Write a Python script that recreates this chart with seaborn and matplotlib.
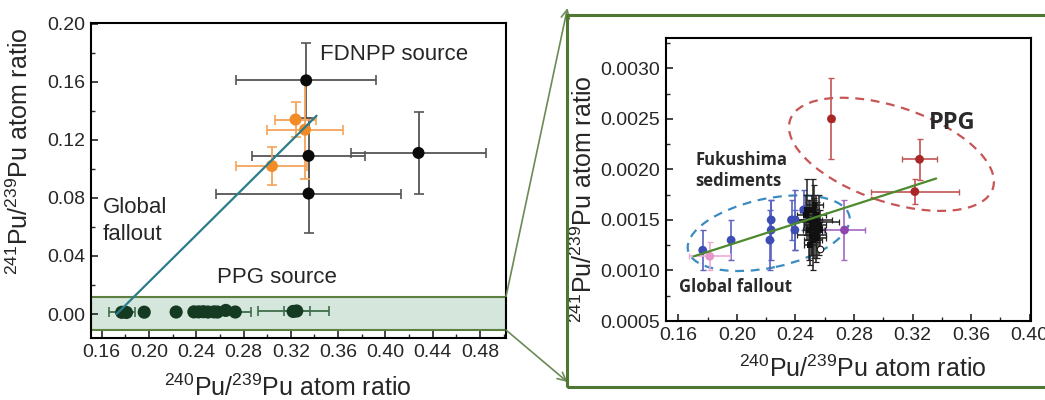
import numpy as np
import pandas as pd
import matplotlib
matplotlib.use("Agg")
import matplotlib.pyplot as plt
import matplotlib.patches as mpatches
import matplotlib.transforms as mtransforms
from matplotlib.ticker import MultipleLocator, FormatStrFormatter
import seaborn as sns

# ---------------- data: main panel (241Pu/239Pu vs 240Pu/239Pu) ----------------
fdnpp_x = [0.333, 0.335, 0.428, 0.335]
fdnpp_y = [0.161, 0.109, 0.111, 0.083]
fdnpp_xerr = [0.059, 0.048, 0.057, 0.078]
fdnpp_yerr = [0.026, 0.026, 0.028, 0.027]

orange_x = [0.324, 0.332, 0.304]
orange_y = [0.134, 0.127, 0.102]
orange_xerr = [0.017, 0.032, 0.030]
orange_yerr = [0.012, 0.034, 0.013]

ppg_x = [0.177, 0.181, 0.196, 0.223, 0.238, 0.242, 0.246, 0.250, 0.255,
         0.258, 0.265, 0.273, 0.322, 0.325]
ppg_y = [0.0012, 0.0011, 0.0013, 0.0014, 0.0015, 0.0015, 0.0016, 0.0014, 0.0015,
         0.0014, 0.0025, 0.0014, 0.0018, 0.0021]
ppg_xerr = [0.011, 0.0, 0.0, 0.0, 0.0, 0.0, 0.0, 0.0, 0.0,
            0.0, 0.002, 0.013, 0.030, 0.011]

mix_line_x = [0.1726, 0.3418]
mix_line_y = [0.0, 0.1366]

band_lo, band_hi = -0.011, 0.012

# ---------------- data: zoomed panel ----------------
blue_x = [0.1766, 0.196, 0.2234, 0.2234, 0.2225, 0.2373, 0.2396, 0.2396, 0.2457]
blue_y = [0.00120, 0.00130, 0.00150, 0.00140, 0.00130, 0.00150, 0.00150, 0.00140, 0.00160]
blue_yerr = [0.0002, 0.0002, 0.0002, 0.0003, 0.0003, 0.0002, 0.0003, 0.0002, 0.0002]

purple_x = [0.2735]
purple_y = [0.0014]
purple_xerr = [0.014]
purple_yerr = [0.0003]

pink_x = [0.1814]
pink_y = [0.00114]
pink_xerr = [0.014]
pink_yerr = [0.00014]

red_x = [0.2646, 0.3248, 0.3216]
red_y = [0.0025, 0.0021, 0.00178]
red_xerr = [0.002, 0.012, 0.030]
red_yerr = [0.0004, 0.0002, 0.00012]

sed_x = [0.247, 0.249, 0.250, 0.251, 0.251, 0.252, 0.252, 0.253, 0.253,
         0.254, 0.254, 0.255, 0.255, 0.256, 0.250, 0.253, 0.257, 0.248]
sed_y = [0.00155, 0.00140, 0.00150, 0.00145, 0.00135, 0.00160, 0.00130, 0.00150, 0.00142,
         0.00155, 0.00138, 0.00148, 0.00132, 0.00145, 0.00125, 0.00165, 0.00140, 0.00160]
sed_xerr = [0.006, 0.004, 0.008, 0.005, 0.010, 0.004, 0.006, 0.012, 0.005,
            0.007, 0.004, 0.015, 0.006, 0.005, 0.004, 0.006, 0.003, 0.005]
sed_yerr = [0.0002, 0.0003, 0.0002, 0.0003, 0.0002, 0.0003, 0.0003, 0.0002, 0.0003,
            0.0002, 0.0003, 0.0002, 0.0002, 0.0003, 0.0002, 0.0002, 0.0002, 0.0003]
open_x = [0.2571]
open_y = [0.00121]

fit_x = [0.1705, 0.3362]
fit_y = [0.00114, 0.00191]

xlabel = r"$^{240}$Pu/$^{239}$Pu atom ratio"
ylabel = r"$^{241}$Pu/$^{239}$Pu atom ratio"

# ---------------- style ----------------
sns.set_style("ticks")
plt.rcParams["font.family"] = ["Liberation Sans", "DejaVu Sans"]
plt.rcParams["mathtext.fontset"] = "custom"
plt.rcParams["mathtext.rm"] = "Liberation Sans"
plt.rcParams["mathtext.it"] = "Liberation Sans:italic"
plt.rcParams["mathtext.bf"] = "Liberation Sans:bold"

W, H = 1045, 400
fig = plt.figure(figsize=(W / 100, H / 100), dpi=100)
fig.patch.set_facecolor("white")


def px_box(l, t, r, b):
    return [l / W, 1 - b / H, (r - l) / W, (b - t) / H]


def style_axes(ax):
    for s in ax.spines.values():
        s.set_linewidth(1.5)
        s.set_color("black")
    ax.tick_params(which="major", direction="in", length=5, width=1.2,
                   labelsize=14, top=False, right=False, pad=4)
    ax.tick_params(which="minor", direction="in", length=3, width=1.0,
                   top=False, right=False)


# ---------------- main panel ----------------
ax = fig.add_axes(px_box(91, 23, 506, 338))
style_axes(ax)
ax.set_xlim(0.151, 0.502)
ax.set_ylim(-0.0165, 0.2005)
ax.xaxis.set_major_locator(MultipleLocator(0.04))
ax.xaxis.set_minor_locator(MultipleLocator(0.02))
ax.yaxis.set_major_locator(MultipleLocator(0.04))
ax.yaxis.set_minor_locator(MultipleLocator(0.02))
ax.xaxis.set_major_formatter(FormatStrFormatter("%.2f"))
ax.yaxis.set_major_formatter(FormatStrFormatter("%.2f"))

ax.axhspan(band_lo, band_hi, facecolor="#d5e6dc", edgecolor="#5b8040",
           linewidth=1.5, zorder=0.5)

ax.errorbar(fdnpp_x, fdnpp_y, xerr=fdnpp_xerr, yerr=fdnpp_yerr, fmt="none",
            ecolor="#555555", elinewidth=1.3, capsize=3.5, capthick=1.2, zorder=2)
ax.errorbar(orange_x, orange_y, xerr=orange_xerr, yerr=orange_yerr, fmt="none",
            ecolor="#f5a45a", elinewidth=1.3, capsize=3.5, capthick=1.2, zorder=2)
ppg_xerr_arr = np.array(ppg_xerr)
ax.errorbar(ppg_x, ppg_y, xerr=np.where(ppg_xerr_arr > 0, ppg_xerr_arr, np.nan),
            fmt="none", ecolor="#3f6e4a", elinewidth=1.3, capsize=3.5,
            capthick=1.2, zorder=2)

sns.scatterplot(x=fdnpp_x, y=fdnpp_y, ax=ax, color="#0a0a0a", s=75,
                edgecolor="none", zorder=3)
sns.scatterplot(x=orange_x, y=orange_y, ax=ax, color="#f28a26", s=75,
                edgecolor="none", zorder=3)
sns.scatterplot(x=ppg_x, y=ppg_y, ax=ax, color="#143a22", s=90,
                edgecolor="none", zorder=3)
sns.lineplot(x=mix_line_x, y=mix_line_y, ax=ax, color="#2b7d8c", lw=1.6,
             zorder=4)

ax.text(0.345, 0.179, "FDNPP source", fontsize=16, va="center", ha="left")
ax.text(0.161, 0.0643, "Global\nfallout", fontsize=16, va="center", ha="left",
        linespacing=1.4)
ax.text(0.2578, 0.0253, "PPG source", fontsize=16, va="center", ha="left")

ax.set_xlabel(xlabel, fontsize=18)
ax.set_ylabel(ylabel, fontsize=18)
ax.xaxis.set_label_coords(0.475, -0.117)
ax.yaxis.set_label_coords(-0.14, 0.594)

# ---------------- zoomed panel ----------------
ins = fig.add_axes(px_box(666, 38, 1031, 321))
style_axes(ins)
ins.set_xlim(0.1515, 0.401)
ins.set_ylim(0.0005, 0.0033)
ins.xaxis.set_major_locator(MultipleLocator(0.04))
ins.xaxis.set_minor_locator(MultipleLocator(0.02))
ins.yaxis.set_major_locator(MultipleLocator(0.0005))
ins.yaxis.set_minor_locator(MultipleLocator(0.00025))
ins.xaxis.set_major_formatter(FormatStrFormatter("%.2f"))
ins.yaxis.set_major_formatter(FormatStrFormatter("%.4f"))

eb = dict(fmt="none", elinewidth=1.2, capsize=2.5, capthick=1.0, zorder=2)
ins.errorbar(blue_x, blue_y, yerr=blue_yerr, ecolor="#5a63c0", **eb)
ins.errorbar(purple_x, purple_y, xerr=purple_xerr, yerr=purple_yerr,
             ecolor="#a468c0", **eb)
ins.errorbar(pink_x, pink_y, xerr=pink_xerr, yerr=pink_yerr,
             ecolor="#eeaad6", **eb)
ins.errorbar(red_x, red_y, xerr=red_xerr, yerr=red_yerr, ecolor="#c25555", **eb)
ins.errorbar(sed_x, sed_y, xerr=sed_xerr, yerr=sed_yerr, ecolor="#222222",
             fmt="none", elinewidth=1.1, capsize=2, capthick=0.9, zorder=2.5)

sns.scatterplot(x=blue_x, y=blue_y, ax=ins, color="#3d4db5", s=40,
                edgecolor="none", zorder=3)
sns.scatterplot(x=purple_x, y=purple_y, ax=ins, color="#8e45ad", s=40,
                edgecolor="none", zorder=3)
sns.scatterplot(x=pink_x, y=pink_y, ax=ins, color="#e596cb", s=40,
                edgecolor="none", zorder=3)
sns.scatterplot(x=red_x, y=red_y, ax=ins, color="#a82828", s=40,
                edgecolor="none", zorder=3)
sns.scatterplot(x=sed_x, y=sed_y, ax=ins, color="#111111", s=18, marker="s",
                edgecolor="none", zorder=3)
sns.scatterplot(x=open_x, y=open_y, ax=ins, color="white", s=22,
                edgecolor="#111111", linewidth=0.8, zorder=3)
sns.lineplot(x=fit_x, y=fit_y, ax=ins, color="#4d8a2e", lw=1.6, zorder=4)

# group outlines, sized in inches and anchored at a data point
def group_ellipse(axis, cx, cy, w_in, h_in, angle, color):
    tr = fig.dpi_scale_trans + mtransforms.ScaledTranslation(cx, cy, axis.transData)
    e = mpatches.Ellipse((0, 0), w_in, h_in, angle=angle, transform=tr,
                         fill=False, edgecolor=color, linewidth=1.6,
                         linestyle=(0, (4, 3)), zorder=1.5)
    axis.add_patch(e)

group_ellipse(ins, 0.2217, 0.001369, 1.65, 0.69, 12, "#3b8cc0")
group_ellipse(ins, 0.3056, 0.002149, 2.14, 0.95, -18.7, "#c85454")

bold = dict(fontweight="bold", family=["Open Sans", "DejaVu Sans"], color="#2a2a2a")
ins.text(0.3312, 0.002455, "PPG", fontsize=17, va="center", ha="left", **bold)
ins.text(0.1716, 0.00199, "Fukushima\nsediments", fontsize=12, va="center",
         ha="left", linespacing=1.25, **bold)
ins.text(0.1602, 0.000835, "Global fallout", fontsize=12, va="center",
         ha="left", **bold)

ins.set_xlabel(xlabel, fontsize=18)
ins.set_ylabel(ylabel, fontsize=18)
ins.xaxis.set_label_coords(0.54, -0.123)
ins.yaxis.set_label_coords(-0.189, 0.43)

# frame around the zoomed panel and the pointers to it
frame = mpatches.Rectangle((567.3 / W, 1 - 386.7 / H), 1.02 - 567.3 / W,
                           (386.7 - 15) / H, transform=fig.transFigure,
                           fill=False, edgecolor="#4e7733", linewidth=2.2,
                           clip_on=False)
fig.patches.append(frame)

xmax = ax.get_xlim()[1]
for y_edge, fy in [(band_hi, 1 - 8 / H), (band_lo, 1 - 382 / H)]:
    con = mpatches.ConnectionPatch(xyA=(xmax, y_edge), coordsA=ax.transData,
                                   xyB=(567.5 / W, fy), coordsB=fig.transFigure,
                                   arrowstyle="->,head_length=0.6,head_width=0.3",
                                   color="#6b8a55", lw=1.2)
    fig.add_artist(con)

fig.savefig("out.png", dpi=100, facecolor="white")
